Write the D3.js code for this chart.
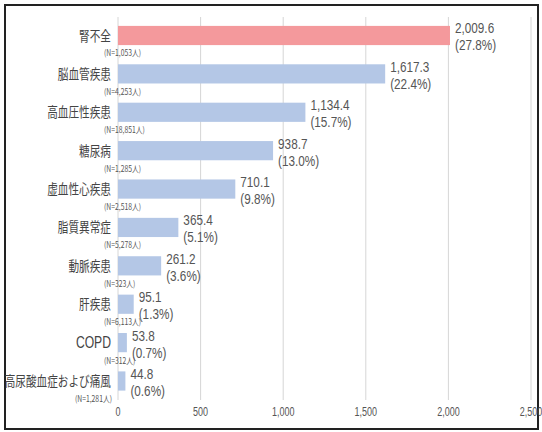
<!DOCTYPE html>
<html><head><meta charset="utf-8">
<script src="https://cdn.jsdelivr.net/npm/d3@7/dist/d3.min.js"></script>
<style>
html,body{margin:0;padding:0;background:#fff;}
svg{display:block;}
</style></head>
<body>
<svg id="c" width="542" height="432"></svg>
<script>
const categories = ["腎不全","脳血管疾患","高血圧性疾患","糖尿病","虚血性心疾患","脂質異常症","動脈疾患","肝疾患","COPD","高尿酸血症および痛風"];
const values = [2009.6,1617.3,1134.4,938.7,710.1,365.4,261.2,95.1,53.8,44.8];
const shares = ["27.8%","22.4%","15.7%","13.0%","9.8%","5.1%","3.6%","1.3%","0.7%","0.6%"];
const counts = ["(N=1,053人)","(N=4,253人)","(N=18,851人)","(N=1,285人)","(N=2,518人)","(N=5,278人)","(N=323人)","(N=6,113人)","(N=312人)","(N=1,281人)"];
const tickValues = [0,500,1000,1500,2000,2500];
const highlight = "腎不全";

const svg = d3.select("#c");
const x = d3.scaleLinear().domain([0,2500]).range([118,531]);
const y = d3.scaleBand().domain(categories).range([16.3,400.2]).paddingInner(0.5).paddingOuter(0.25);
const fmt = d3.format(",.1f");
const narrow = "'Liberation Sans Narrow','Liberation Sans',Arial,sans-serif";
const cjk = "'Noto Sans CJK JP','Noto Sans CJK SC',sans-serif";

// frame
svg.append("rect").attr("x",5).attr("y",5).attr("width",533).attr("height",424)
  .attr("fill","#fff").attr("stroke","#222").attr("stroke-width",2);

// grid
svg.append("g").selectAll("line").data(tickValues).join("line")
  .attr("x1",d=>x(d)).attr("x2",d=>x(d)).attr("y1",17).attr("y2",400)
  .attr("stroke","#d6d6d6").attr("stroke-width",1);

// tick labels
svg.append("g").selectAll("g").data(tickValues).join("g")
  .attr("transform",d=>`translate(${x(d)},416) scale(0.75,1)`)
  .append("text").attr("text-anchor","middle")
  .attr("font-family",narrow).attr("font-size",12).attr("fill","#555")
  .text(d=>d3.format(",")(d));

const rows = categories.map((c,i)=>({c,v:values[i],s:shares[i],n:counts[i],i}));

// bars
svg.append("g").selectAll("rect").data(rows).join("rect")
  .attr("x",x(0)).attr("y",d=>y(d.c)).attr("width",d=>x(d.v)-x(0)).attr("height",y.bandwidth())
  .attr("fill",d=>d.c===highlight?"#F4999C":"#B4C7E6");

// category labels
svg.append("g").selectAll("g").data(rows).join("g")
  .attr("transform",d=>`translate(111,${y(d.c)+y.bandwidth()/2}) scale(0.76,1)`)
  .append("text").attr("text-anchor","end").attr("dy","0.36em")
  .attr("font-family",d=>/^[A-Z]+$/.test(d.c)?narrow:cjk)
  .attr("font-size",d=>/^[A-Z]+$/.test(d.c)?16:14).attr("fill","#444")
  .text(d=>d.c);

// n labels
svg.append("g").selectAll("g").data(rows).join("g")
  .attr("transform",d=>`translate(${d.i===rows.length-1?112:104},${y(d.c)+y.bandwidth()/2+18}) scale(0.8,1)`)
  .append("text").attr("text-anchor",d=>d.i===rows.length-1?"end":"start").attr("dy","0.35em")
  .attr("font-family",cjk).attr("font-size",8.5).attr("fill","#555")
  .text(d=>d.n);

// value labels
const vl = svg.append("g").selectAll("g").data(rows).join("g")
  .attr("transform",d=>`translate(${x(d.v)+5},${y(d.c)+y.bandwidth()/2}) scale(0.84,1)`);
vl.append("text").attr("y",-2).attr("font-family",narrow).attr("font-size",14).attr("fill","#555")
  .text(d=>fmt(d.v));
vl.append("text").attr("y",15).attr("font-family",narrow).attr("font-size",14).attr("fill","#555")
  .text(d=>`(${d.s})`);
</script>
</body></html>
